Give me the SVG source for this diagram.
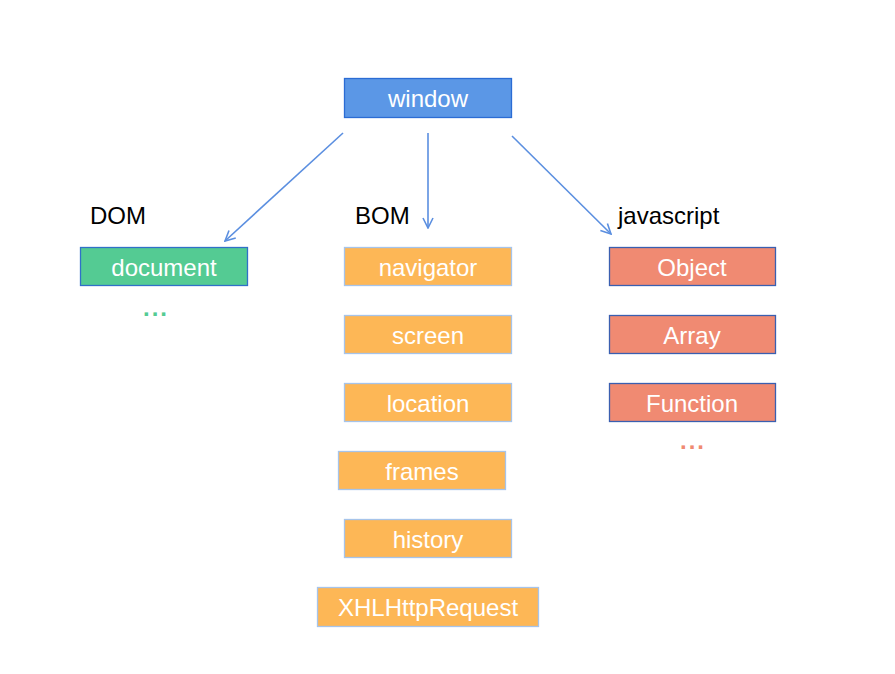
<svg xmlns="http://www.w3.org/2000/svg" width="895" height="674" viewBox="0 0 895 674">
<defs>
<style>
text{font-family:"Liberation Sans",Arial,sans-serif;font-size:24px}
.t{fill:#fff;text-anchor:middle;dominant-baseline:central}
.l{fill:#000}
.d{text-anchor:middle;font-weight:bold;letter-spacing:2px}
.blue rect{fill:#5b97e6;stroke:#2b6cd4;stroke-width:1.3}
.green rect{fill:#54cb93;stroke:#3070c8;stroke-width:1.3}
.orange rect{fill:#fdb756;stroke:#a6c4ea;stroke-width:1.3}
.red rect{fill:#f08a72;stroke:#3a5fb0;stroke-width:1.3}
.c line{stroke:#5b8fe0;stroke-width:1.6;fill:none}
</style>
<marker id="a" viewBox="0 0 12 12" refX="11" refY="6" markerWidth="12" markerHeight="12" markerUnits="userSpaceOnUse" orient="auto">
<path d="M1,1 L11,6 L1,11" fill="none" stroke="#5b8fe0" stroke-width="1.6"/>
</marker>
</defs>
<rect width="895" height="674" fill="#fff"/>
<g id="window" class="blue"><rect x="344.5" y="78.5" width="167" height="39"/><text class="t" x="428" y="98">window</text></g>
<g class="c">
<line x1="343" y1="133" x2="225" y2="241" marker-end="url(#a)"/>
<line x1="428" y1="133" x2="428" y2="228" marker-end="url(#a)"/>
<line x1="512" y1="136" x2="611" y2="234" marker-end="url(#a)"/>
</g>
<text class="l" x="90" y="224">DOM</text>
<text class="l" x="355" y="224">BOM</text>
<text class="l" x="618" y="224">javascript</text>
<g id="document" class="green"><rect x="80.5" y="247.5" width="167" height="38"/><text class="t" x="164" y="267">document</text></g>
<text class="d" x="156" y="316" fill="#54cb93">...</text>
<g id="navigator" class="orange"><rect x="344.5" y="247.5" width="167" height="38"/><text class="t" x="428" y="267">navigator</text></g>
<g id="screen" class="orange"><rect x="344.5" y="315.5" width="167" height="38"/><text class="t" x="428" y="335">screen</text></g>
<g id="location" class="orange"><rect x="344.5" y="383.5" width="167" height="38"/><text class="t" x="428" y="403">location</text></g>
<g id="frames" class="orange"><rect x="338.5" y="451.5" width="167" height="38"/><text class="t" x="422" y="471">frames</text></g>
<g id="history" class="orange"><rect x="344.5" y="519.5" width="167" height="38"/><text class="t" x="428" y="539">history</text></g>
<g id="xhr" class="orange"><rect x="317.5" y="587.5" width="221" height="39"/><text class="t" x="428" y="607">XHLHttpRequest</text></g>
<g id="object" class="red"><rect x="609.5" y="247.5" width="166" height="38"/><text class="t" x="692" y="267">Object</text></g>
<g id="array" class="red"><rect x="609.5" y="315.5" width="166" height="38"/><text class="t" x="692" y="335">Array</text></g>
<g id="function" class="red"><rect x="609.5" y="383.5" width="166" height="38"/><text class="t" x="692" y="403">Function</text></g>
<text class="d" x="693" y="449" fill="#f08a72">...</text>
</svg>
